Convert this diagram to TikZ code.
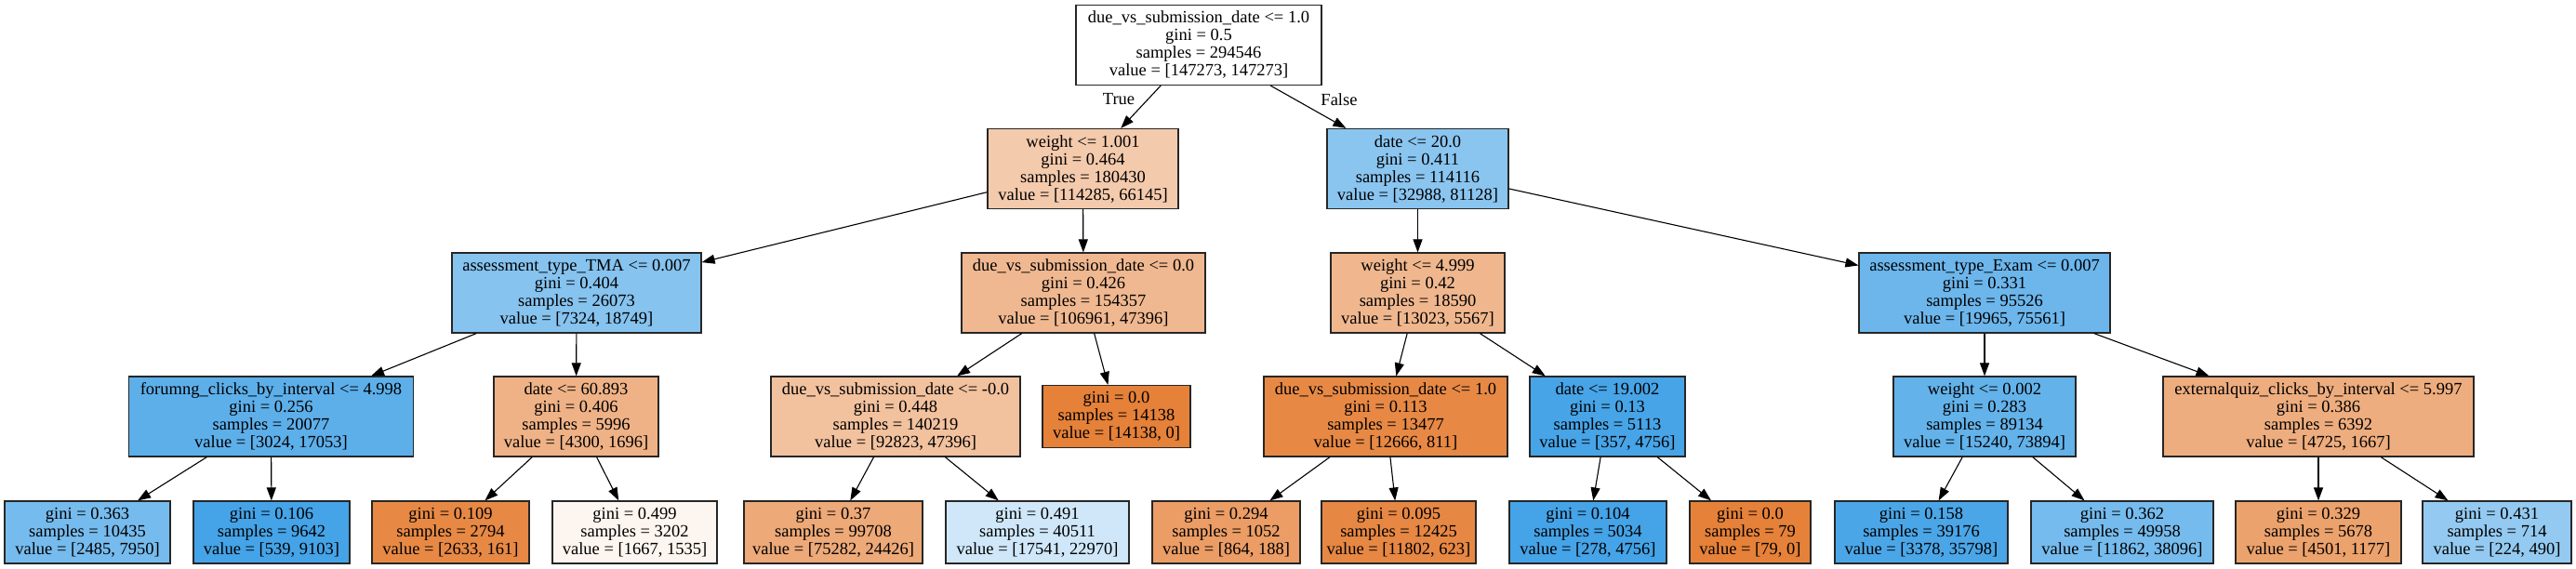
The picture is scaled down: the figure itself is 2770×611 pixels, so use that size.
\documentclass[tikz,border=0pt]{standalone}
\usepackage{fontspec}
\setmainfont{Liberation Serif}
\usetikzlibrary{arrows.meta}
\definecolor{corg}{RGB}{229,129,57}
\definecolor{cblu}{RGB}{57,157,229}
\begin{document}
\begin{tikzpicture}[x=1pt,y=-1pt,
  box/.style={draw=black!85, line width=1.2pt, rectangle, inner sep=0pt, align=center,
    font=\fontsize{18.5pt}{19pt}\selectfont},
  inner/.style={box, minimum height=86pt},
  leaf/.style={box, minimum height=67pt},
  lbl/.style={inner sep=0pt, font=\fontsize{18.5pt}{19pt}\selectfont},
  edge/.style={line width=1.1pt, draw=black, -{Triangle[length=14pt,width=10pt]}}]
\useasboundingbox[fill=white] (0,0) rectangle (2770,611);

% level 0
\node[inner, minimum width=264pt, fill=white] (n0) at (1289,48.5)
  {due\_vs\_submission\_date <= 1.0\\gini = 0.5\\samples = 294546\\value = [147273, 147273]};
% level 1
\node[inner, minimum width=205pt, fill=corg!42!white] (n1) at (1164.5,181.5)
  {weight <= 1.001\\gini = 0.464\\samples = 180430\\value = [114285, 66145]};
\node[inner, minimum width=195pt, fill=cblu!59!white] (n2) at (1524.5,181.5)
  {date <= 20.0\\gini = 0.411\\samples = 114116\\value = [32988, 81128]};
% level 2
\node[inner, minimum width=268pt, fill=cblu!61!white] (n3) at (620,315)
  {assessment\_type\_TMA <= 0.007\\gini = 0.404\\samples = 26073\\value = [7324, 18749]};
\node[inner, minimum width=262pt, fill=corg!56!white] (n4) at (1165,315)
  {due\_vs\_submission\_date <= 0.0\\gini = 0.426\\samples = 154357\\value = [106961, 47396]};
\node[inner, minimum width=187pt, fill=corg!57!white] (n5) at (1524.5,315)
  {weight <= 4.999\\gini = 0.42\\samples = 18590\\value = [13023, 5567]};
\node[inner, minimum width=270pt, fill=cblu!74!white] (n6) at (2134,315)
  {assessment\_type\_Exam <= 0.007\\gini = 0.331\\samples = 95526\\value = [19965, 75561]};
% level 3
\node[inner, minimum width=306pt, fill=cblu!82!white] (n7) at (291.5,448)
  {forumng\_clicks\_by\_interval <= 4.998\\gini = 0.256\\samples = 20077\\value = [3024, 17053]};
\node[inner, minimum width=177pt, fill=corg!61!white] (n8) at (619.5,448)
  {date <= 60.893\\gini = 0.406\\samples = 5996\\value = [4300, 1696]};
\node[inner, minimum width=268pt, fill=corg!49!white] (n9) at (963,448)
  {due\_vs\_submission\_date <= -0.0\\gini = 0.448\\samples = 140219\\value = [92823, 47396]};
\node[leaf, minimum width=159pt, fill=corg] (n10) at (1200.5,448)
  {gini = 0.0\\samples = 14138\\value = [14138, 0]};
\node[inner, minimum width=262pt, fill=corg!94!white] (n11) at (1490,448)
  {due\_vs\_submission\_date <= 1.0\\gini = 0.113\\samples = 13477\\value = [12666, 811]};
\node[inner, minimum width=167pt, fill=cblu!93!white] (n12) at (1728.5,448)
  {date <= 19.002\\gini = 0.13\\samples = 5113\\value = [357, 4756]};
\node[inner, minimum width=196pt, fill=cblu!79!white] (n13) at (2134,448)
  {weight <= 0.002\\gini = 0.283\\samples = 89134\\value = [15240, 73894]};
\node[inner, minimum width=334pt, fill=corg!65!white] (n14) at (2493,448)
  {externalquiz\_clicks\_by\_interval <= 5.997\\gini = 0.386\\samples = 6392\\value = [4725, 1667]};
% leaves
\node[leaf, minimum width=178pt, fill=cblu!69!white] (l1) at (94,572.5)
  {gini = 0.363\\samples = 10435\\value = [2485, 7950]};
\node[leaf, minimum width=168pt, fill=cblu!94!white] (l2) at (292,572.5)
  {gini = 0.106\\samples = 9642\\value = [539, 9103]};
\node[leaf, minimum width=169pt, fill=corg!94!white] (l3) at (484.5,572.5)
  {gini = 0.109\\samples = 2794\\value = [2633, 161]};
\node[leaf, minimum width=177pt, fill=corg!8!white] (l4) at (682.5,572.5)
  {gini = 0.499\\samples = 3202\\value = [1667, 1535]};
\node[leaf, minimum width=192pt, fill=corg!68!white] (l5) at (896,572.5)
  {gini = 0.37\\samples = 99708\\value = [75282, 24426]};
\node[leaf, minimum width=197pt, fill=cblu!24!white] (l6) at (1115.5,572.5)
  {gini = 0.491\\samples = 40511\\value = [17541, 22970]};
\node[leaf, minimum width=159pt, fill=corg!78!white] (l7) at (1318.5,572.5)
  {gini = 0.294\\samples = 1052\\value = [864, 188]};
\node[leaf, minimum width=166pt, fill=corg!95!white] (l8) at (1504,572.5)
  {gini = 0.095\\samples = 12425\\value = [11802, 623]};
\node[leaf, minimum width=169pt, fill=cblu!94!white] (l9) at (1707.5,572.5)
  {gini = 0.104\\samples = 5034\\value = [278, 4756]};
\node[leaf, minimum width=130pt, fill=corg] (l10) at (1882,572.5)
  {gini = 0.0\\samples = 79\\value = [79, 0]};
\node[leaf, minimum width=186pt, fill=cblu!91!white] (l11) at (2066,572.5)
  {gini = 0.158\\samples = 39176\\value = [3378, 35798]};
\node[leaf, minimum width=196pt, fill=cblu!69!white] (l12) at (2282,572.5)
  {gini = 0.362\\samples = 49958\\value = [11862, 38096]};
\node[leaf, minimum width=178pt, fill=corg!74!white] (l13) at (2493,572.5)
  {gini = 0.329\\samples = 5678\\value = [4501, 1177]};
\node[leaf, minimum width=160pt, fill=cblu!54!white] (l14) at (2685,572.5)
  {gini = 0.431\\samples = 714\\value = [224, 490]};

% edge labels
\node[lbl] (tlab) at (1203,107) {True};
\node[lbl] (flab) at (1440,107) {False};

% edges
\foreach \a/\b in {n0/n1,n0/n2,n1/n3,n1/n4,n2/n5,n2/n6,n3/n7,n3/n8,n4/n9,n4/n10,
  n5/n11,n5/n12,n6/n13,n6/n14,n7/l1,n7/l2,n8/l3,n8/l4,n9/l5,n9/l6,n11/l7,n11/l8,
  n12/l9,n12/l10,n13/l11,n13/l12,n14/l13,n14/l14}
  \draw[edge] (\a) -- (\b);
\end{tikzpicture}
\end{document}
